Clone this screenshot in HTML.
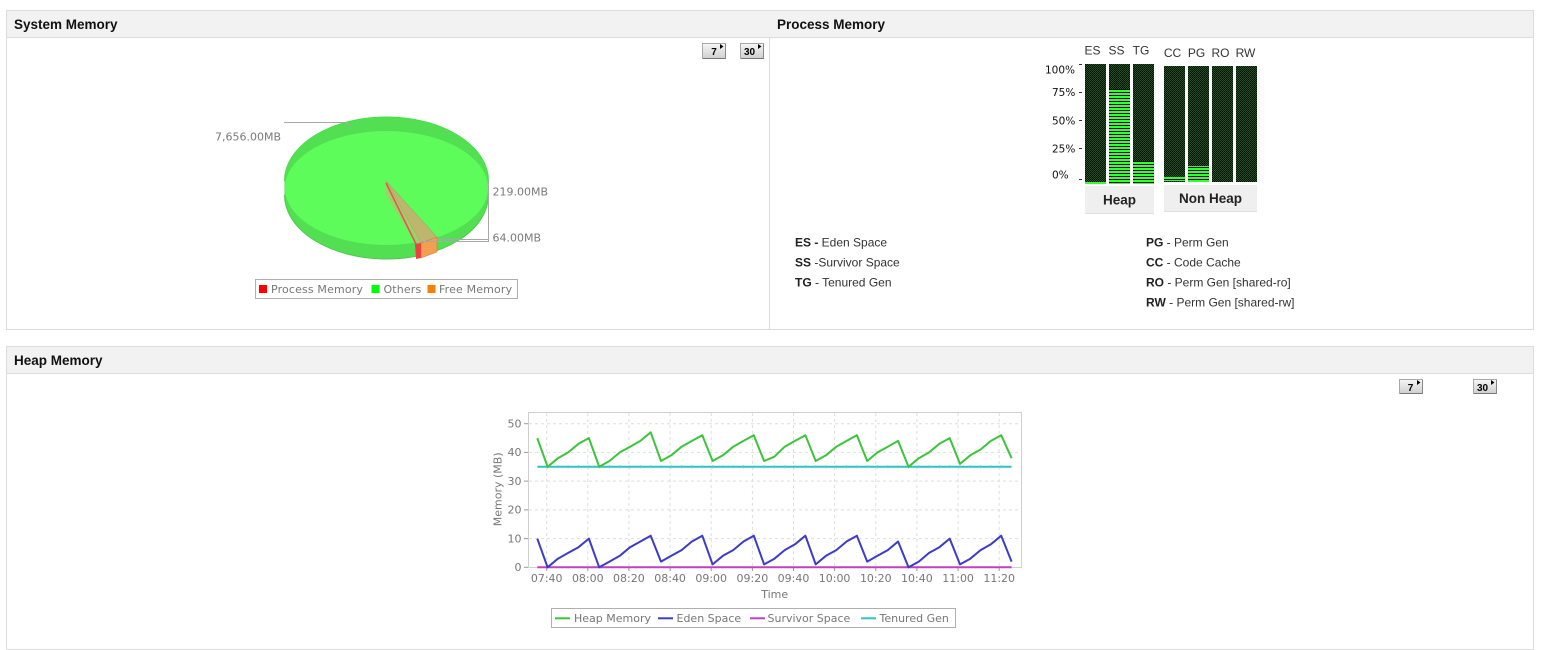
<!DOCTYPE html>
<html><head><meta charset="utf-8"><style>
html,body{margin:0;padding:0;background:#fff;}
svg{display:block;}
.ui{font-family:"Liberation Sans",Arial,sans-serif;}
.ch{font-family:"DejaVu Sans",Verdana,sans-serif;}
</style></head><body>
<svg width="1563" height="650" viewBox="0 0 1563 650" xmlns="http://www.w3.org/2000/svg">
<defs>
<linearGradient id="btn" x1="0" y1="0" x2="0" y2="1"><stop offset="0" stop-color="#f6f6f6"/><stop offset="1" stop-color="#cfcfcf"/></linearGradient>
<pattern id="dots" x="0" y="0" width="2" height="2" patternUnits="userSpaceOnUse"><rect width="2" height="2" fill="#050a05"/><rect x="0" y="0" width="1" height="1" fill="#185818"/><rect x="1" y="1" width="1" height="1" fill="#185818"/></pattern>
<pattern id="stripes" x="0" y="0" width="3" height="3" patternUnits="userSpaceOnUse"><rect width="3" height="3" fill="#000"/><rect width="3" height="2" fill="#33ff33"/></pattern>
<marker id="tk" markerWidth="2" markerHeight="4" refX="1" refY="2" markerUnits="userSpaceOnUse"><rect x="0.5" y="0.5" width="1" height="3" fill="#58caca"/></marker>
</defs>

<!-- Panel 1 -->
<rect x="6.5" y="10.5" width="1527" height="319" fill="#fff" stroke="#dcdcdc"/>
<rect x="7" y="11" width="1526" height="26" fill="#f2f2f2"/>
<line x1="6" y1="37.5" x2="1534" y2="37.5" stroke="#dcdcdc"/>
<line x1="769.5" y1="38" x2="769.5" y2="329" stroke="#dcdcdc"/>
<text class="ui" x="14" y="29" font-size="13.5" font-weight="bold" fill="#111">System Memory</text>
<text class="ui" x="777" y="29" font-size="13.5" font-weight="bold" fill="#111">Process Memory</text>

<!-- buttons top -->
<g>
<rect x="702.5" y="43.5" width="23" height="15" fill="url(#btn)" stroke="#a8a8a8"/>
<line x1="703" y1="58.5" x2="726" y2="58.5" stroke="#777"/><line x1="725.5" y1="44" x2="725.5" y2="59" stroke="#888"/>
<text class="ui" x="714" y="55" font-size="10" font-weight="bold" fill="#000" text-anchor="middle">7</text>
<path d="M720,44 L723.5,46.5 L720,49 Z" fill="#000"/>
<rect x="740.5" y="43.5" width="23" height="15" fill="url(#btn)" stroke="#a8a8a8"/>
<line x1="741" y1="58.5" x2="764" y2="58.5" stroke="#777"/><line x1="763.5" y1="44" x2="763.5" y2="59" stroke="#888"/>
<text class="ui" x="749.5" y="55" font-size="10" font-weight="bold" fill="#000" text-anchor="middle">30</text>
<path d="M758,44 L761.5,46.5 L758,49 Z" fill="#000"/>
</g>

<!-- Pie -->
<g>
<path d="M284.5,181 A102,64 0 0 1 488.5,181 L488.5,195 A102,64 0 0 1 284.5,195 Z" fill="#52e052"/>
<ellipse cx="386.5" cy="188" rx="101.5" ry="57" fill="#5efc5a"/>
<path d="M284.5,195 A102,64 0 0 0 488.5,195" fill="none" stroke="#4cc94c" stroke-width="1"/>
<path d="M284.5,181 A102,64 0 0 1 488.5,181" fill="none" stroke="#46e046" stroke-width="1"/>
<!-- small slices -->
<path d="M386,181 L437,237 L421,243 Z" fill="#c8b070" stroke="#a09060" stroke-width="0.5" opacity="0.9"/>
<path d="M386,181 L386,195 L416,244 L421,243 Z" fill="#b8c070" opacity="0.7"/>
<path d="M421,243 L437,237 L437,252 L421,258 Z" fill="#f0a050" stroke="#c08040" stroke-width="0.5"/>
<path d="M415,244 L421,243 L421,258 L416,259 Z" fill="#ee4040"/>
<path d="M386,183 L416,244" stroke="#ee5050" stroke-width="1.5"/>
<!-- leader lines -->
<polyline points="284,122.5 347,122.5 350,128.5" fill="none" stroke="#a8a8a8"/>
<polyline points="488.5,180 488.5,241.5 421,241.5" fill="none" stroke="#a8a8a8"/>
<line x1="437" y1="239.5" x2="488" y2="239.5" stroke="#a8a8a8"/>
<text class="ch" x="215" y="140.5" font-size="11" fill="#7a7a7a">7,656.00MB</text>
<text class="ch" x="492.5" y="195.5" font-size="11" fill="#7a7a7a">219.00MB</text>
<text class="ch" x="492.5" y="241.5" font-size="11" fill="#7a7a7a">64.00MB</text>
<!-- legend -->
<rect x="255.5" y="279.5" width="262" height="19" fill="#fff" stroke="#b0b0b0"/>
<rect x="259" y="285" width="8" height="8" fill="#ff0000"/>
<text class="ch" x="271" y="293" font-size="11" fill="#777" letter-spacing="0.15">Process Memory</text>
<rect x="371.5" y="285" width="8" height="8" fill="#00ff00"/>
<text class="ch" x="383.5" y="293" font-size="11" fill="#777" letter-spacing="0.15">Others</text>
<rect x="427.5" y="285" width="8" height="8" fill="#ff7f00"/>
<text class="ch" x="439" y="293" font-size="11" fill="#777" letter-spacing="0.15">Free Memory</text>
</g>

<!-- Process memory bars -->
<g>
<g class="ui" font-size="12" fill="#333" text-anchor="middle">
<text x="1092.5" y="54.5">ES</text>
<text x="1116.5" y="54.5">SS</text>
<text x="1141" y="54.5">TG</text>
<text x="1172.5" y="57">CC</text>
<text x="1196.5" y="57">PG</text>
<text x="1220.5" y="57">RO</text>
<text x="1245.5" y="57">RW</text>
</g>
<g class="ch" font-size="10.5" fill="#111">
<text x="1045" y="73.5">100%</text>
<text x="1052" y="96">75%</text>
<text x="1052" y="124.5">50%</text>
<text x="1052" y="152.5">25%</text>
<text x="1052" y="178.5">0%</text>
</g>
<g fill="#333">
<rect x="1079" y="64" width="3" height="1"/><rect x="1079" y="92" width="3" height="1"/><rect x="1079" y="120" width="3" height="1"/><rect x="1079" y="148" width="3" height="1"/><rect x="1079" y="179" width="3" height="1"/>
</g>
<rect x="1085" y="64" width="21" height="120" fill="url(#dots)"/>
<rect x="1109" y="64" width="21" height="120" fill="url(#dots)"/>
<rect x="1133" y="64" width="21" height="120" fill="url(#dots)"/>
<rect x="1164" y="66" width="21" height="116" fill="url(#dots)"/>
<rect x="1188" y="66" width="21" height="116" fill="url(#dots)"/>
<rect x="1212" y="66" width="21" height="116" fill="url(#dots)"/>
<rect x="1236" y="66" width="21" height="116" fill="url(#dots)"/>
<rect x="1085" y="182" width="21" height="2" fill="#33ff33"/>
<rect x="1109" y="89" width="21" height="95" fill="url(#stripes)"/>
<rect x="1133" y="161" width="21" height="23" fill="url(#stripes)"/>
<rect x="1164" y="177" width="21" height="4" fill="url(#stripes)"/>
<rect x="1188" y="166" width="21" height="16" fill="url(#stripes)"/>
<rect x="1085" y="186" width="69" height="27" fill="#efefef"/>
<line x1="1085" y1="213.5" x2="1154" y2="213.5" stroke="#e0e0e0"/>
<text class="ui" x="1119.5" y="204.5" font-size="13.5" font-weight="bold" fill="#222" text-anchor="middle">Heap</text>
<rect x="1164" y="185" width="93" height="26" fill="#efefef"/>
<line x1="1164" y1="211.5" x2="1257" y2="211.5" stroke="#e0e0e0"/>
<text class="ui" x="1210.5" y="203" font-size="13.5" font-weight="bold" fill="#222" text-anchor="middle">Non Heap</text>
</g>

<!-- Process legend -->
<g class="ui" font-size="12" fill="#333">
<text x="795" y="246.5"><tspan font-weight="bold" fill="#222">ES -</tspan> Eden Space</text>
<text x="795" y="266.5"><tspan font-weight="bold" fill="#222">SS</tspan> -Survivor Space</text>
<text x="795" y="286.5"><tspan font-weight="bold" fill="#222">TG</tspan> - Tenured Gen</text>
<text x="1146" y="246.5"><tspan font-weight="bold" fill="#222">PG</tspan> - Perm Gen</text>
<text x="1146" y="266.5"><tspan font-weight="bold" fill="#222">CC</tspan> - Code Cache</text>
<text x="1146" y="286.5"><tspan font-weight="bold" fill="#222">RO</tspan> - Perm Gen [shared-ro]</text>
<text x="1146" y="306.5"><tspan font-weight="bold" fill="#222">RW</tspan> - Perm Gen [shared-rw]</text>
</g>

<!-- Panel 2 -->
<rect x="6.5" y="346.5" width="1527" height="303" fill="#fff" stroke="#dcdcdc"/>
<rect x="7" y="347" width="1526" height="26" fill="#f2f2f2"/>
<line x1="6" y1="373.5" x2="1534" y2="373.5" stroke="#dcdcdc"/>
<text class="ui" x="14" y="365" font-size="13.5" font-weight="bold" fill="#111">Heap Memory</text>

<g>
<rect x="1399.5" y="379.5" width="23" height="14" fill="url(#btn)" stroke="#a8a8a8"/>
<line x1="1400" y1="393.5" x2="1423" y2="393.5" stroke="#777"/><line x1="1422.5" y1="380" x2="1422.5" y2="394" stroke="#888"/>
<text class="ui" x="1410.5" y="391" font-size="10" font-weight="bold" fill="#000" text-anchor="middle">7</text>
<path d="M1417,380 L1420.5,382.5 L1417,385 Z" fill="#000"/>
<rect x="1473.5" y="379.5" width="23" height="14" fill="url(#btn)" stroke="#a8a8a8"/>
<line x1="1474" y1="393.5" x2="1497" y2="393.5" stroke="#777"/><line x1="1496.5" y1="380" x2="1496.5" y2="394" stroke="#888"/>
<text class="ui" x="1482.5" y="391" font-size="10" font-weight="bold" fill="#000" text-anchor="middle">30</text>
<path d="M1491,380 L1494.5,382.5 L1491,385 Z" fill="#000"/>
</g>

<!-- Line chart -->
<g>
<rect x="528.5" y="412.5" width="493" height="155" fill="#fff" stroke="#d0d0d0"/>
<g stroke="#dedede" stroke-dasharray="3,3" stroke-width="1">
<line x1="529" y1="423.7" x2="1021" y2="423.7"/>
<line x1="529" y1="452.4" x2="1021" y2="452.4"/>
<line x1="529" y1="481.1" x2="1021" y2="481.1"/>
<line x1="529" y1="509.9" x2="1021" y2="509.9"/>
<line x1="529" y1="538.6" x2="1021" y2="538.6"/>
<line x1="546.7" y1="413" x2="546.7" y2="567"/>
<line x1="587.8" y1="413" x2="587.8" y2="567"/>
<line x1="628.9" y1="413" x2="628.9" y2="567"/>
<line x1="670.1" y1="413" x2="670.1" y2="567"/>
<line x1="711.2" y1="413" x2="711.2" y2="567"/>
<line x1="752.4" y1="413" x2="752.4" y2="567"/>
<line x1="793.5" y1="413" x2="793.5" y2="567"/>
<line x1="834.6" y1="413" x2="834.6" y2="567"/>
<line x1="875.8" y1="413" x2="875.8" y2="567"/>
<line x1="916.9" y1="413" x2="916.9" y2="567"/>
<line x1="958.1" y1="413" x2="958.1" y2="567"/>
<line x1="999.2" y1="413" x2="999.2" y2="567"/>
</g>
<g stroke="#999" stroke-width="1">
<line x1="524" y1="423.7" x2="528" y2="423.7"/><line x1="524" y1="452.4" x2="528" y2="452.4"/><line x1="524" y1="481.1" x2="528" y2="481.1"/><line x1="524" y1="509.9" x2="528" y2="509.9"/><line x1="524" y1="538.6" x2="528" y2="538.6"/><line x1="524" y1="567.3" x2="528" y2="567.3"/>
<line x1="546.7" y1="568" x2="546.7" y2="571"/><line x1="587.8" y1="568" x2="587.8" y2="571"/><line x1="628.9" y1="568" x2="628.9" y2="571"/><line x1="670.1" y1="568" x2="670.1" y2="571"/><line x1="711.2" y1="568" x2="711.2" y2="571"/><line x1="752.4" y1="568" x2="752.4" y2="571"/><line x1="793.5" y1="568" x2="793.5" y2="571"/><line x1="834.6" y1="568" x2="834.6" y2="571"/><line x1="875.8" y1="568" x2="875.8" y2="571"/><line x1="916.9" y1="568" x2="916.9" y2="571"/><line x1="958.1" y1="568" x2="958.1" y2="571"/><line x1="999.2" y1="568" x2="999.2" y2="571"/>
</g>
<g class="ch" font-size="11" fill="#777" text-anchor="end">
<text x="521.5" y="427.5">50</text><text x="521.5" y="456.2">40</text><text x="521.5" y="484.9">30</text><text x="521.5" y="513.7">20</text><text x="521.5" y="542.4">10</text><text x="521.5" y="571.1">0</text>
</g>
<g class="ch" font-size="11" fill="#777" text-anchor="middle">
<text x="546.7" y="582">07:40</text><text x="587.8" y="582">08:00</text><text x="628.9" y="582">08:20</text><text x="670.1" y="582">08:40</text><text x="711.2" y="582">09:00</text><text x="752.4" y="582">09:20</text><text x="793.5" y="582">09:40</text><text x="834.6" y="582">10:00</text><text x="875.8" y="582">10:20</text><text x="916.9" y="582">10:40</text><text x="958.1" y="582">11:00</text><text x="999.2" y="582">11:20</text>
<text x="774.7" y="598">Time</text>
<text x="0" y="0" transform="translate(501.5,489.3) rotate(-90)">Memory (MB)</text>
</g>
<!-- series -->
<line x1="537.3" y1="567.3" x2="1011.6" y2="567.3" stroke="#c040c0" stroke-width="2"/>
<polyline fill="none" stroke="#2ec4c4" stroke-width="2" marker-mid="url(#tk)" points="537.3,466.8 547.6,466.8 557.9,466.8 568.2,466.8 578.5,466.8 588.9,466.8 599.2,466.8 609.5,466.8 619.8,466.8 630.1,466.8 640.4,466.8 650.7,466.8 661.0,466.8 671.3,466.8 681.6,466.8 691.9,466.8 702.3,466.8 712.6,466.8 722.9,466.8 733.2,466.8 743.5,466.8 753.8,466.8 764.1,466.8 774.4,466.8 784.7,466.8 795.0,466.8 805.4,466.8 815.7,466.8 826.0,466.8 836.3,466.8 846.6,466.8 856.9,466.8 867.2,466.8 877.5,466.8 887.8,466.8 898.1,466.8 908.5,466.8 918.8,466.8 929.1,466.8 939.4,466.8 949.7,466.8 960.0,466.8 970.3,466.8 980.6,466.8 990.9,466.8 1001.2,466.8 1011.6,466.8"/>
<polyline fill="none" stroke="#3c3cc8" stroke-width="2" stroke-linejoin="round" points="537.3,538.6 547.6,567.3 557.9,558.7 568.2,552.9 578.5,547.2 588.9,538.6 599.2,567.3 609.5,561.6 619.8,555.8 630.1,547.2 640.4,541.5 650.7,535.7 661.0,561.6 671.3,555.8 681.6,550.1 691.9,541.5 702.3,535.7 712.6,564.4 722.9,555.8 733.2,550.1 743.5,541.5 753.8,535.7 764.1,564.4 774.4,558.7 784.7,550.1 795.0,544.3 805.4,535.7 815.7,564.4 826.0,555.8 836.3,550.1 846.6,541.5 856.9,535.7 867.2,561.6 877.5,555.8 887.8,550.1 898.1,541.5 908.5,567.3 918.8,561.6 929.1,552.9 939.4,547.2 949.7,538.6 960.0,564.4 970.3,558.7 980.6,550.1 990.9,544.3 1001.2,535.7 1011.6,561.6"/>
<polyline fill="none" stroke="#3cc43c" stroke-width="2" stroke-linejoin="round" points="537.3,438.1 547.6,466.8 557.9,458.2 568.2,452.4 578.5,443.8 588.9,438.1 599.2,466.8 609.5,461.0 619.8,452.4 630.1,446.7 640.4,440.9 650.7,432.3 661.0,461.0 671.3,455.3 681.6,446.7 691.9,440.9 702.3,435.2 712.6,461.0 722.9,455.3 733.2,446.7 743.5,440.9 753.8,435.2 764.1,461.0 774.4,456.7 784.7,446.7 795.0,440.9 805.4,435.2 815.7,461.0 826.0,455.3 836.3,446.7 846.6,440.9 856.9,435.2 867.2,461.0 877.5,452.4 887.8,446.7 898.1,440.9 908.5,466.8 918.8,458.2 929.1,452.4 939.4,443.8 949.7,438.1 960.0,463.9 970.3,455.3 980.6,449.5 990.9,440.9 1001.2,435.2 1011.6,458.2"/>
<!-- legend -->
<rect x="551.5" y="608.5" width="404" height="19" fill="#fff" stroke="#b0b0b0"/>
<line x1="555" y1="618.3" x2="570" y2="618.3" stroke="#3cc43c" stroke-width="2"/>
<text class="ch" x="574" y="622" font-size="11" fill="#777">Heap Memory</text>
<line x1="658" y1="618.3" x2="673" y2="618.3" stroke="#3c3cc8" stroke-width="2"/>
<text class="ch" x="676.5" y="622" font-size="11" fill="#777">Eden Space</text>
<line x1="750" y1="618.3" x2="765" y2="618.3" stroke="#c040c0" stroke-width="2"/>
<text class="ch" x="767.5" y="622" font-size="11" fill="#777">Survivor Space</text>
<line x1="861" y1="618.3" x2="876" y2="618.3" stroke="#2ec4c4" stroke-width="2"/>
<text class="ch" x="879.5" y="622" font-size="11" fill="#777">Tenured Gen</text>
</g>
</svg>
</body></html>
